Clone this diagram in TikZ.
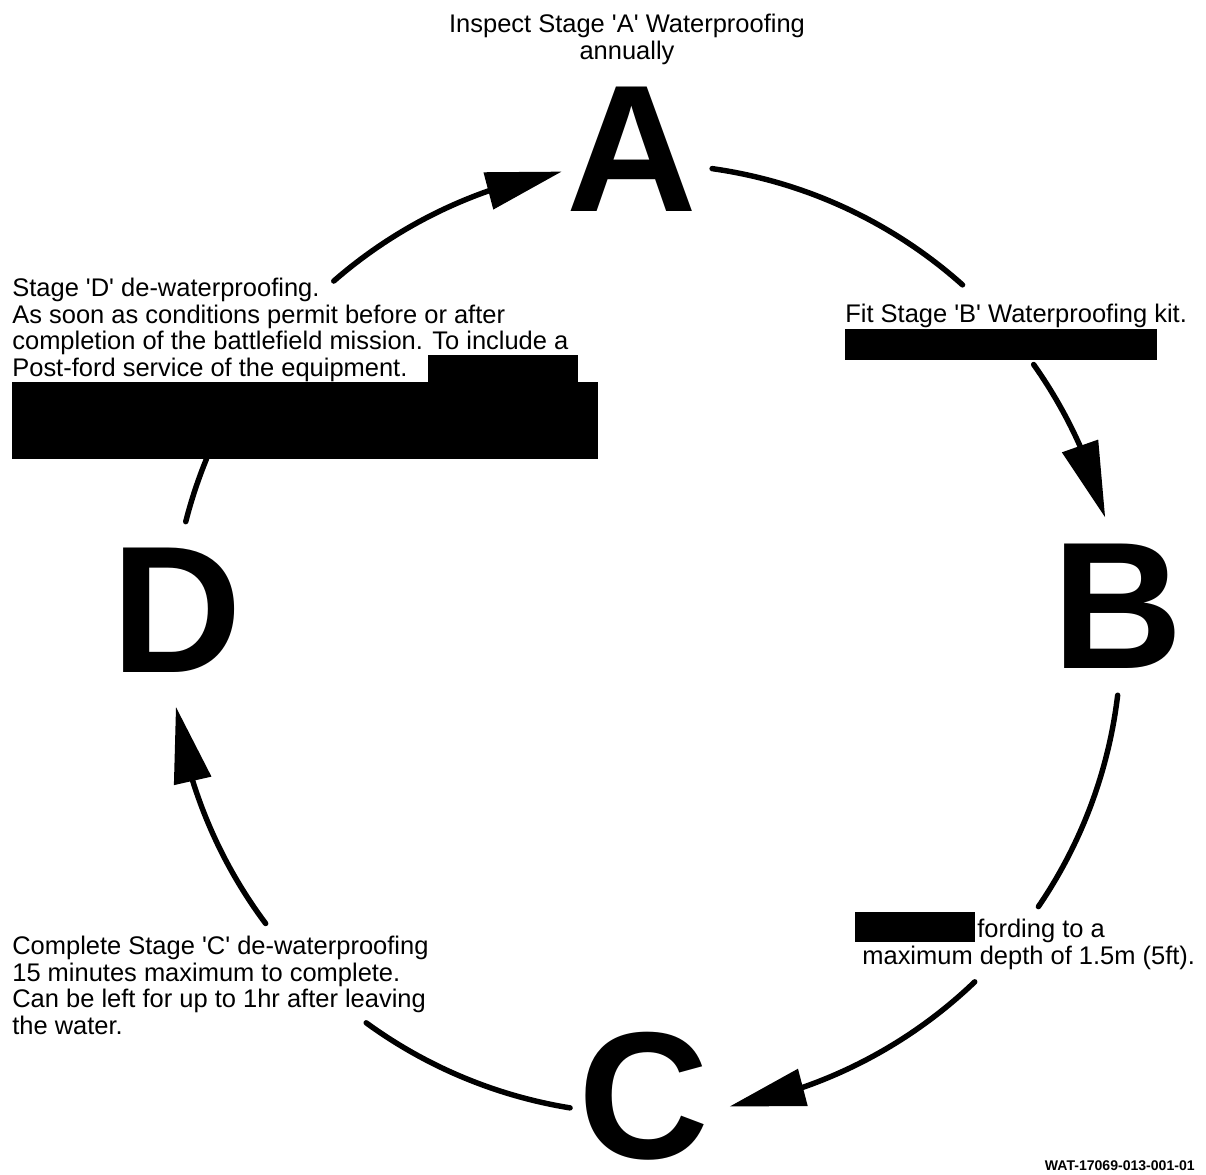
\documentclass[tikz,border=0pt]{standalone}
\usepackage{fontspec}
\setmainfont{Liberation Sans}
\usetikzlibrary{arrows.meta,bending}
\newcommand\tq{\textquotesingle}
\begin{document}
\begin{tikzpicture}[x=0.02cm,y=0.02cm,
  conn/.style={line width=3.1pt, line cap=round},
  arr/.style={conn, -{Triangle[length=1.52cm,width=0.74cm,flex]}},
  big/.style={font=\fontsize{103}{103}\selectfont\bfseries, inner sep=0, anchor=base},
  txt/.style={font=\fontsize{14.5}{15.1}\selectfont, inner sep=0, align=left, anchor=north west},
  redact/.style={fill=black}]
\useasboundingbox[fill=white] (0,0) rectangle (1206,1174);

% centre of the cycle
\coordinate (O) at (646,535);

% big stage letters
\node[big] (A) at (631.5,962) {A};
\node[big] (B) at (1118,506) {B};
\node[big] (D) at (177,502) {D};
\node[big] (C) at (644,16) {C};

% texts
\node[txt, anchor=north, align=center] (tA) at (627,1160) {Inspect Stage \tq A\tq{} Waterproofing\\annually};
\node[txt] (tD) at (12,896) {Stage \tq D\tq{} de-waterproofing.\\As soon as conditions permit before or after\\completion of the battlefield mission. To include a\\Post-ford service of the equipment.};
\node[txt] (tB) at (845,870) {Fit Stage \tq B\tq{} Waterproofing kit.};
\node[txt] (tF) at (862,255) {\hspace*{2.3cm}fording to a\\maximum depth of 1.5m (5ft).};
\node[txt] (tC) at (12,238) {Complete Stage \tq C\tq{} de-waterproofing\\15 minutes maximum to complete.\\Can be left for up to 1hr after leaving\\the water.};
\node[font=\fontsize{8}{8}\selectfont\bfseries, inner sep=0, anchor=base east] (ft) at (1195,4) {WAT-17069-013-001-01};

% redactions
\fill[redact] (428,819) rectangle (578,792);
\fill[redact] (12,792) rectangle (598,715);
\fill[redact] (845,845) rectangle (1157,814);
\fill[redact] (855,262) rectangle (975,232);

% arc end points
\coordinate (a1) at ([shift={(82:475)}]O);
\coordinate (b0) at ([shift={(35.3:475)}]O);
\coordinate (b1) at ([shift={(-6.8:475)}]O);
\coordinate (c0) at ([shift={(-46.2:475)}]O);
\coordinate (c1) at ([shift={(-99.2:475)}]O);
\coordinate (d0) at ([shift={(-143.2:475)}]O);
\coordinate (d1) at ([shift={(165.7:475)}]O);
\coordinate (a0) at ([shift={(131.1:475)}]O);

% connectors
\draw[conn] (a1) arc[start angle=82, end angle=48.2, radius=9.5cm];
\draw[arr]  (b0) arc[start angle=35.3, end angle=14.8, radius=9.5cm];
\draw[conn] (b1) arc[start angle=-6.8, end angle=-34.3, radius=9.5cm];
\draw[arr]  (c0) arc[start angle=-46.2, end angle=-79.9, radius=9.5cm];
\draw[conn] (c1) arc[start angle=-99.2, end angle=-126.1, radius=9.5cm];
\draw[arr]  (d0) arc[start angle=-143.2, end angle=-171.8, radius=9.5cm];
\draw[conn] (d1) arc[start angle=165.7, end angle=157.7, radius=9.5cm];
\draw[arr]  (a0) arc[start angle=131.1, end angle=100.2, radius=9.5cm];
\end{tikzpicture}
\end{document}
